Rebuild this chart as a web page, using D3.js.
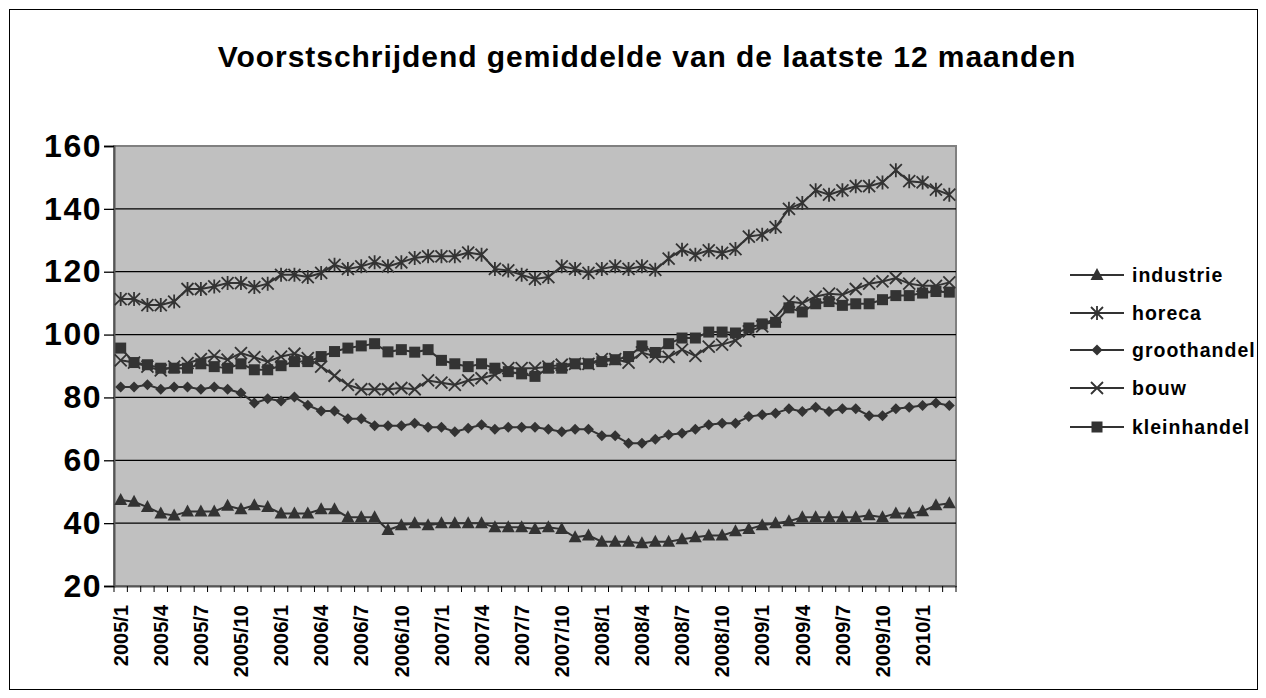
<!DOCTYPE html>
<html><head><meta charset="utf-8">
<script src="https://cdn.jsdelivr.net/npm/d3@7"></script>
<style>body{margin:0;background:#fff}svg{display:block}text{font-family:Arial,"Liberation Sans",sans-serif;font-weight:bold}</style>
</head><body><svg id="c" width="1266" height="698"></svg>
<script>
const months = [];
for (let y = 2005; y <= 2010; y++) for (let m = 1; m <= 12; m++) { if (y === 2010 && m > 3) break; months.push(y + "/" + m); }
const industrie = [47.4,46.8,45.1,43.1,42.4,43.7,43.7,43.7,45.5,44.4,45.7,45.1,43.1,43.1,43.1,44.4,44.4,41.9,41.9,41.9,37.8,39.3,40,39.3,40,40,40,40,38.7,38.7,38.7,38.1,38.7,38.1,35.5,36.1,34.1,34.1,34.1,33.6,34.1,34.1,34.9,35.5,36.1,36.1,37.4,38.1,39.3,40,40.6,41.9,41.9,41.9,41.9,41.9,42.5,41.9,43.1,43.1,43.8,45.7,46.3];
const horeca = [111.3,111.3,109.4,109.4,110.5,114.5,114.5,115.3,116.4,116.4,115.1,116.2,119,119,118.3,119.6,122.2,120.9,121.7,123,121.7,123,124.4,124.9,124.9,124.9,126.1,125.4,120.9,120.4,119,117.7,118.3,121.7,120.9,119.6,120.9,121.7,120.9,121.7,120.6,124.2,127,125.4,126.8,126,127.2,131.2,131.8,134.2,140,141.9,145.9,144.5,145.9,147.2,147.2,148.4,152.3,148.8,148.4,146.1,144.5];
const groothandel = [83.3,83.3,84,82.6,83.3,83.3,82.6,83.3,82.6,81.4,78.2,79.6,78.9,80.1,77.5,75.7,75.7,73.2,73.2,71,71,71,71.8,70.5,70.5,69.1,70.2,71.3,69.9,70.5,70.5,70.5,69.9,69.1,69.9,69.9,67.8,67.8,65.4,65.4,66.7,68.1,68.6,69.9,71.3,71.8,71.8,73.9,74.5,75,76.4,75.5,76.9,75.5,76.4,76.4,74.2,74.2,76.4,76.9,77.4,78.2,77.4];
const bouw = [91.8,91.1,89.8,88.6,89.8,90.9,92.2,93.2,92,94.1,92.8,91.4,93,93.9,92.5,89.8,86.9,84,82.6,82.6,82.6,83,82.6,85.4,84.7,84,85.4,86.1,87.2,89.3,89.3,89.3,89.8,90.4,90.7,90.7,92.2,92.2,91.1,94.3,93,92.9,95.2,93.2,96.2,96.8,98.1,101,102.6,105.6,110.5,110,112.1,113,112.7,114.5,116.2,116.9,118,116.2,115.5,115.5,116.6];
const kleinhandel = [95.7,91.1,90.4,89.3,89.3,89.3,90.7,89.8,89.3,90.7,88.8,88.8,90.1,91.4,91.4,93,94.6,95.7,96.4,97.1,94.5,95.2,94.4,95.2,91.8,90.7,89.8,90.7,89.3,88.2,87.5,86.7,89.3,89.3,90.7,90.7,91.4,92,93,96.4,94.3,97.1,98.9,98.9,100.8,100.8,100.5,102.1,103.4,103.9,108.5,107.2,109.8,110.5,109.3,109.8,109.8,111.1,112.4,112.4,113.2,113.7,113.5];
const yTicks = [20,40,60,80,100,120,140,160];
const seriesNames = ["industrie","horeca","groothandel","bouw","kleinhandel"];
const seriesData = [industrie, horeca, groothandel, bouw, kleinhandel];
const markerTypes = ["triangle","asterisk","diamond","cross","square"];

const svg = d3.select("#c");
const col = "#333333";
const FF = "Arial,'Liberation Sans',sans-serif";
svg.append("rect").attr("x",9.5).attr("y",9.5).attr("width",1248).attr("height",680).attr("fill","#fff").attr("stroke","#000");
svg.append("text").attr("x",647).attr("y",67).attr("text-anchor","middle").attr("font-size",30).attr("letter-spacing",0.95).text("Voorstschrijdend gemiddelde van de laatste 12 maanden");

const L=114, R=956, T=146, B=586;
const x = d3.scaleBand().domain(months).range([L,R]);
const y = d3.scaleLinear().domain([20,160]).range([B,T]);
svg.append("rect").attr("x",L).attr("y",T).attr("width",R-L).attr("height",B-T).attr("fill","#c0c0c0").attr("stroke","#808080").attr("stroke-width",2);

svg.append("g").selectAll("line").data(yTicks.slice(1,-1)).join("line")
  .attr("x1",L).attr("x2",R).attr("y1",d=>y(d)).attr("y2",d=>y(d)).attr("stroke","#000").attr("stroke-width",1.3);

const ya = svg.append("g").attr("transform",`translate(${L},0)`).call(d3.axisLeft(y).tickValues(yTicks).tickSize(10).tickPadding(2));
ya.select(".domain").attr("stroke","#555").attr("stroke-width",2);
ya.selectAll(".tick line").attr("stroke","#000").attr("stroke-width",1.3);
ya.selectAll("text").attr("font-size",32).attr("letter-spacing",1.5).attr("fill","#000").attr("font-family",FF).attr("font-weight","bold");

const xa = svg.append("g").attr("transform",`translate(0,${B})`).call(d3.axisBottom(x).tickSize(0).tickFormat((d,i)=> i%3===0 ? d : ""));
xa.select(".domain").attr("stroke","#555").attr("stroke-width",2);
xa.selectAll(".tick text").attr("transform","rotate(-90)").attr("text-anchor","end").attr("x",-19).attr("y",0).attr("dy","0.36em")
  .attr("font-size",20).attr("fill","#000").attr("font-family",FF).attr("font-weight","bold");
svg.append("g").selectAll("line").data(months.concat(["end"])).join("line")
  .attr("x1",(d,i)=> i<months.length ? x(d) : R).attr("x2",(d,i)=> i<months.length ? x(d) : R)
  .attr("y1",B).attr("y2",B+6).attr("stroke","#000").attr("stroke-width",1);

function drawMarker(g, type, cx, cy) {
  if (type==="triangle") g.append("path").attr("d",`M${cx},${cy-7}L${cx+6.5},${cy+5}L${cx-6.5},${cy+5}Z`).attr("fill",col);
  else if (type==="diamond") g.append("path").attr("d",`M${cx},${cy-5.5}L${cx+5.5},${cy}L${cx},${cy+5.5}L${cx-5.5},${cy}Z`).attr("fill",col);
  else if (type==="square") g.append("rect").attr("x",cx-5.5).attr("y",cy-5.5).attr("width",11).attr("height",11).attr("fill",col);
  else if (type==="cross") g.append("path").attr("d",`M${cx-6},${cy-6}L${cx+6},${cy+6}M${cx-6},${cy+6}L${cx+6},${cy-6}`).attr("stroke",col).attr("stroke-width",1.8);
  else if (type==="asterisk") g.append("path").attr("d",`M${cx-6},${cy-6}L${cx+6},${cy+6}M${cx-6},${cy+6}L${cx+6},${cy-6}M${cx},${cy-7}L${cx},${cy+7}`).attr("stroke",col).attr("stroke-width",1.8);
}

const line = d3.line().x((d,i)=>x(months[i])+x.bandwidth()/2).y(d=>y(d));
seriesData.forEach((s,k)=>{
  const g = svg.append("g");
  g.append("path").datum(s).attr("d",line).attr("fill","none").attr("stroke",col).attr("stroke-width",2);
  s.forEach((v,i)=> drawMarker(g, markerTypes[k], x(months[i])+x.bandwidth()/2, y(v)));
});

const legY = [275,313,350,388,427];
seriesNames.forEach((n,k)=>{
  const g = svg.append("g");
  g.append("line").attr("x1",1070).attr("x2",1124).attr("y1",legY[k]).attr("y2",legY[k]).attr("stroke",col).attr("stroke-width",2);
  drawMarker(g, markerTypes[k], 1097, legY[k]);
  g.append("text").attr("x",1132).attr("y",legY[k]).attr("dy","0.36em").attr("font-size",19.5).attr("letter-spacing",1).attr("fill","#000").text(n);
});
</script></body></html>
